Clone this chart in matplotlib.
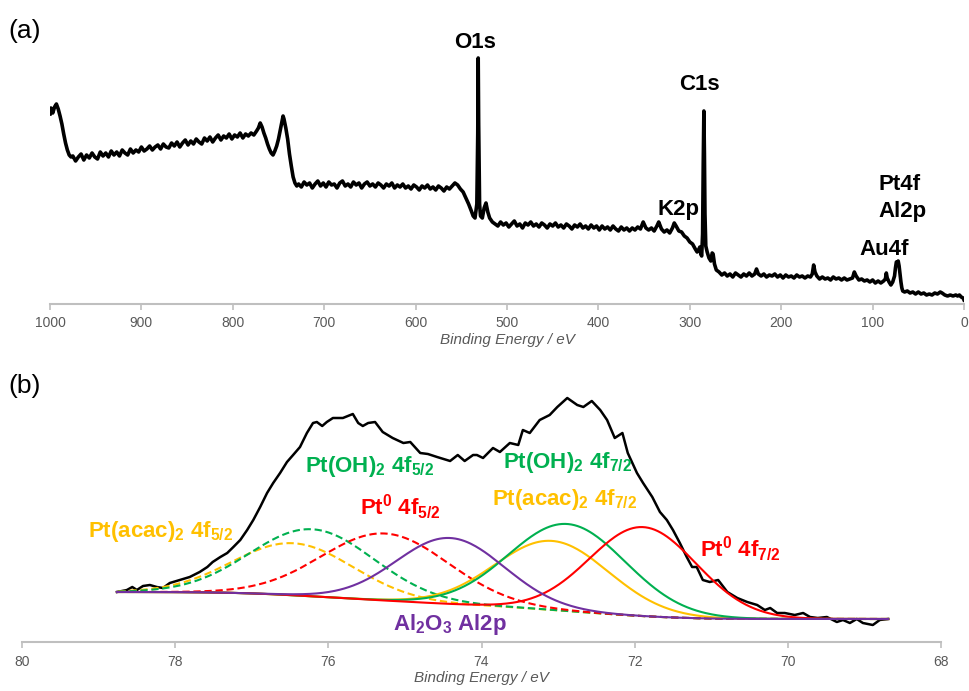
import numpy as np
import matplotlib
matplotlib.use("Agg")
import matplotlib.pyplot as plt

plt.rcParams['font.family'] = ['Liberation Sans', 'DejaVu Sans']

AXIS_GREY = '#bfbfbf'
TEXT_GREY = '#595959'
GREEN = '#00b050'
RED = '#ff0000'
GOLD = '#ffc000'
PURPLE = '#7030a0'

# ---- (a) survey spectrum: binding energy (eV) and counts (arb. units)
survey_be = [
    1000, 999, 997, 995, 993, 991, 989, 987, 985, 983, 981, 979, 977,
    975, 972, 969, 966, 963, 960, 957, 954, 951, 948,
    945, 942, 939, 936, 933, 930, 927, 924, 921, 918,
    915, 912, 909, 906, 903, 900, 897, 894, 891, 888,
    885, 882, 879, 876, 873, 870, 867, 864, 861, 858,
    855, 852, 849, 846, 843, 840, 837, 834, 831, 828,
    825, 822, 819, 816, 813, 810, 807, 804, 801, 798,
    795, 792, 789, 786, 783, 780, 777, 774,
    772, 770, 768, 766, 764, 762, 760, 758, 756, 754, 752, 750,
    748, 746, 745, 744, 742, 740, 738, 736, 734, 732, 730, 728,
    725, 722, 719, 716, 713, 710, 707, 704, 701, 698,
    695, 692, 689, 686, 683, 680, 677, 674, 671, 668,
    665, 662, 659, 656, 653, 650, 647, 644, 641, 638,
    635, 632, 629, 626, 623, 620, 617, 614, 611, 608,
    605, 602, 599, 596, 593, 590, 587, 584, 581, 578,
    575, 572, 569, 566, 563, 560,
    557, 554, 551, 548, 545, 542, 539, 537, 535, 533, 532, 531.5,
    531, 530, 529, 527, 525, 523, 521, 519, 516, 513,
    510, 507, 504, 501, 498, 495, 492, 489, 486, 483,
    480, 477, 474, 471, 468, 465, 462, 459, 456, 453,
    450, 447, 444, 441, 438, 435, 432, 429, 426, 423,
    420, 417, 414, 411, 408, 405, 402, 399, 396, 393,
    390, 387, 384, 381, 378, 375, 372, 369, 366, 363,
    360, 357, 354,
    351, 348, 345, 342, 339, 336, 334, 331, 328, 325, 322, 319, 317, 315,
    312, 309, 306, 303, 300, 297, 294, 292, 290, 289, 288, 287, 286,
    285.3, 284.6, 284, 283.4, 282.5, 281, 279, 277, 275.5, 274.5, 273,
    271, 268, 265,
    262, 259, 256, 253, 250, 247, 244, 241, 238, 235,
    232, 229, 227, 225, 222, 219, 216, 213, 210, 207,
    204, 201, 198, 195, 192, 189, 186, 183, 180, 177,
    174, 171, 168, 166, 164.5, 163, 161, 158, 155, 152,
    149, 146, 143, 140, 137, 134, 131, 128, 125, 122,
    120, 118, 115, 112, 109, 106, 103, 100, 97, 94,
    91, 88, 86, 85, 84, 82, 80, 78, 76, 75,
    74, 73, 72, 71, 70, 69, 68, 67, 65, 62,
    59, 56, 53, 50, 47, 44, 41, 38, 35, 32,
    29, 26, 24, 21, 18, 15, 12, 9, 7, 5,
    3, 1, 0,
]
survey_counts = [
    190, 196, 191, 197, 200, 195, 188, 180, 170, 161, 154, 149, 147,
    148, 143, 147, 150, 144, 149, 146, 151, 147, 145,
    152, 148, 151, 147, 153, 149, 152, 148, 154, 151,
    149, 155, 151, 154, 152, 157, 153, 155, 158, 154,
    157, 159, 155, 160, 157, 156, 161, 158, 162, 157,
    161, 164, 159, 163, 160, 165, 162, 160, 166, 163,
    167, 162, 166, 169, 164, 168, 166, 170, 165, 169,
    167, 171, 166, 170, 168, 171, 169, 173,
    176, 181, 177, 171, 166, 160, 155, 151, 149, 153, 158, 165,
    174, 183, 188, 185, 176, 165, 150, 138, 127, 121, 118, 120,
    117, 122, 119, 121, 116, 120, 123, 118, 121, 117,
    122, 119, 120, 116, 121, 123, 118, 120, 117, 122,
    119, 121, 116, 120, 122, 118, 120, 117, 121, 119,
    116, 120, 118, 121, 116, 119, 117, 120, 116, 118,
    115, 119, 117, 114, 118, 116, 119, 115, 117, 114,
    118, 116, 113, 117, 115, 118,
    121, 119, 115, 112, 106, 100, 93, 88, 86, 100, 170, 246,
    180, 100, 88, 86, 96, 101, 92, 86, 82, 80,
    78, 82, 79, 81, 77, 80, 83, 78, 80, 76,
    81, 79, 82, 78, 80, 77, 81, 79, 76, 80,
    78, 81, 77, 79, 76, 80, 78, 75, 79, 77,
    80, 76, 78, 75, 79, 76, 78, 74, 78, 75,
    77, 74, 78, 75, 73, 77, 74, 76, 73, 76,
    74, 77, 75,
    82, 76, 74, 76, 73, 78, 82, 75, 72, 74, 71, 76, 81, 78,
    73, 72, 68, 66, 62, 60, 55, 52, 55, 57, 50, 48, 70,
    140, 193, 150, 90, 58, 52, 46, 43, 51, 50, 40,
    34, 32, 29,
    31, 28, 30, 27, 31, 29, 27, 30, 28, 31,
    28, 30, 35, 30, 28, 30, 27, 29, 28, 30,
    27, 29, 26, 29, 27, 28, 26, 29, 27, 28,
    26, 28, 27, 30, 39, 32, 28, 25, 27, 25,
    26, 24, 27, 25, 26, 24, 26, 24, 25, 26,
    32, 28, 24, 25, 23, 24, 22, 24, 21, 23,
    21, 23, 25, 31, 26, 22, 19, 22, 28, 36,
    42, 41, 43, 38, 30, 22, 16, 13, 12, 13,
    11, 12, 10, 12, 10, 11, 9, 10, 9, 11,
    10, 12, 11, 9, 8, 9, 8, 9, 8, 9,
    7, 6, 4,
]

# peak labels on the survey: text, binding energy, counts (baseline)
survey_labels = ['O1s', 'C1s', 'K2p', 'Pt4f', 'Al2p', 'Au4f']
survey_label_be = [535, 289, 312, 70, 67, 87.5]
survey_label_counts = [256, 214, 89, 114, 87, 49]

# ---- (b) Pt4f / Al2p high resolution region
hr_be = [
    78.76, 78.63, 78.56, 78.50, 78.42, 78.33, 78.24, 78.16, 78.07, 77.94,
    77.81, 77.68, 77.58, 77.51, 77.41, 77.32, 77.24, 77.15, 77.06, 76.98,
    76.89, 76.80, 76.72, 76.63, 76.54, 76.46, 76.37, 76.28, 76.20, 76.15,
    76.08, 76.02, 75.94, 75.81, 75.68, 75.61, 75.55, 75.48, 75.39, 75.29,
    75.16, 75.02, 74.93, 74.80, 74.70, 74.58, 74.41, 74.31, 74.22, 74.11,
    74.06, 73.98, 73.85, 73.76, 73.63, 73.52, 73.46, 73.37, 73.24, 73.11,
    73.01, 72.88, 72.75, 72.67, 72.56, 72.45, 72.36, 72.26, 72.16, 72.09,
    71.97, 71.89, 71.77, 71.67, 71.58, 71.50, 71.41, 71.32, 71.25, 71.19,
    71.11, 71.02, 70.91, 70.79, 70.66, 70.53, 70.40, 70.30, 70.23, 70.14,
    70.04, 69.91, 69.80, 69.71, 69.61, 69.49, 69.36, 69.28, 69.19, 69.10,
    69.02, 68.89, 68.80, 68.69,
]
hr_counts = [
    50, 52, 55, 52, 56, 57, 55, 54, 59, 62,
    65, 70, 75, 80, 85, 89, 95, 102, 112, 122,
    135, 149, 159, 169, 180, 187, 195, 209, 219, 220,
    216, 220, 224, 224, 228, 219, 216, 219, 220, 210,
    204, 199, 200, 189, 188, 185, 181, 187, 181, 187,
    187, 184, 194, 190, 199, 197, 212, 209, 222, 227,
    235, 244, 237, 235, 241, 232, 222, 204, 209, 189,
    169, 159, 145, 130, 122, 112, 99, 85, 75, 75,
    62, 60, 62, 50, 44, 40, 37, 32, 34, 29,
    29, 27, 29, 25, 24, 25, 20, 22, 19, 23,
    19, 17, 22, 23,
]

# fitted components: centre (eV), height above background, FWHM (eV)
comp_names = ['Pt(acac)$\\mathregular{_2}$ 4f$\\mathregular{_{5/2}}$',
              'Pt(OH)$\\mathregular{_2}$ 4f$\\mathregular{_{5/2}}$',
              'Pt$\\mathregular{^0}$ 4f$\\mathregular{_{5/2}}$',
              'Al$\\mathregular{_2}$O$\\mathregular{_3}$ Al2p',
              'Pt(acac)$\\mathregular{_2}$ 4f$\\mathregular{_{7/2}}$',
              'Pt(OH)$\\mathregular{_2}$ 4f$\\mathregular{_{7/2}}$',
              'Pt$\\mathregular{^0}$ 4f$\\mathregular{_{7/2}}$']
comp_center = [76.46, 76.21, 75.26, 74.41, 73.08, 72.88, 71.89]
comp_height = [52, 67, 67, 66, 69, 87, 89]
comp_fwhm = [1.85, 1.90, 1.95, 1.66, 1.75, 1.80, 1.65]
comp_color = [GOLD, GREEN, RED, PURPLE, GOLD, GREEN, RED]
comp_style = ['--', '--', '--', '-', '-', '-', '-']
# label anchors (left edge, baseline)
comp_label_be = [79.14, 76.30, 75.59, 75.16, 73.86, 73.72, 71.15]
comp_label_counts = [105, 170, 127, 12, 137, 174, 85]

bg_high, bg_low = 50, 23   # Shirley end points (high BE side, low BE side)


def style_axis(ax, xlim, ticks, ylim):
    ax.set_xlim(*xlim)
    ax.set_ylim(*ylim)
    for side in ['top', 'right', 'left']:
        ax.spines[side].set_visible(False)
    ax.spines['bottom'].set_color(AXIS_GREY)
    ax.spines['bottom'].set_linewidth(1.5)
    ax.set_yticks([])
    ax.set_xticks(ticks)
    ax.set_xticklabels([str(t) for t in ticks])
    ax.tick_params(axis='x', direction='out', length=4, width=1.2,
                   color=AXIS_GREY, labelcolor=TEXT_GREY, labelsize=10, pad=5)
    ax.set_xlabel('Binding Energy / eV', style='italic', color=TEXT_GREY,
                  fontsize=11, labelpad=2)
    ax.patch.set_alpha(0)


fig = plt.figure(figsize=(9.69, 6.91), dpi=100)
ax1 = fig.add_axes([50 / 969, 1 - 304 / 691, 914 / 969, 284 / 691])
ax2 = fig.add_axes([22 / 969, 1 - 642 / 691, 919 / 969, 262 / 691])

# survey
style_axis(ax1, (1000, 0), list(range(1000, -1, -100)), (0, 284))
ax1.plot(survey_be, survey_counts, color='black', lw=2.6, solid_joinstyle='round')
for txt, e, c in zip(survey_labels, survey_label_be, survey_label_counts):
    ax1.text(e, c, txt, ha='center', va='baseline', fontsize=16,
             fontweight='bold', color='black')

# high resolution fit
style_axis(ax2, (80, 68), list(range(80, 67, -2)), (0, 262))
e = np.linspace(hr_be[-1], hr_be[0], 500)
peaks = [h * np.exp(-4 * np.log(2) * (e - c) ** 2 / w ** 2)
         for c, h, w in zip(comp_center, comp_height, comp_fwhm)]
total = np.sum(peaks, axis=0)
cum = np.concatenate([[0], np.cumsum((total[1:] + total[:-1]) / 2 * np.diff(e))])
bg = bg_low + (bg_high - bg_low) * cum / cum[-1]

ax2.plot(hr_be, hr_counts, color='black', lw=1.8, solid_joinstyle='round')
order = [0, 1, 2, 4, 5, 6, 3]   # purple on top
for i in order:
    ax2.plot(e, bg + peaks[i], color=comp_color[i], ls=comp_style[i], lw=1.5,
             dashes=(3.5, 1.8) if comp_style[i] == '--' else (None, None))
for i in range(len(comp_names)):
    ax2.text(comp_label_be[i], comp_label_counts[i], comp_names[i], ha='left',
             va='baseline', fontsize=16, fontweight='bold', color=comp_color[i])

fig.text(8 / 969, 1 - 31 / 691, '(a)', fontsize=19, va='center', ha='left')
fig.text(8 / 969, 1 - 386 / 691, '(b)', fontsize=19, va='center', ha='left')

fig.savefig('out.png', dpi=100)
